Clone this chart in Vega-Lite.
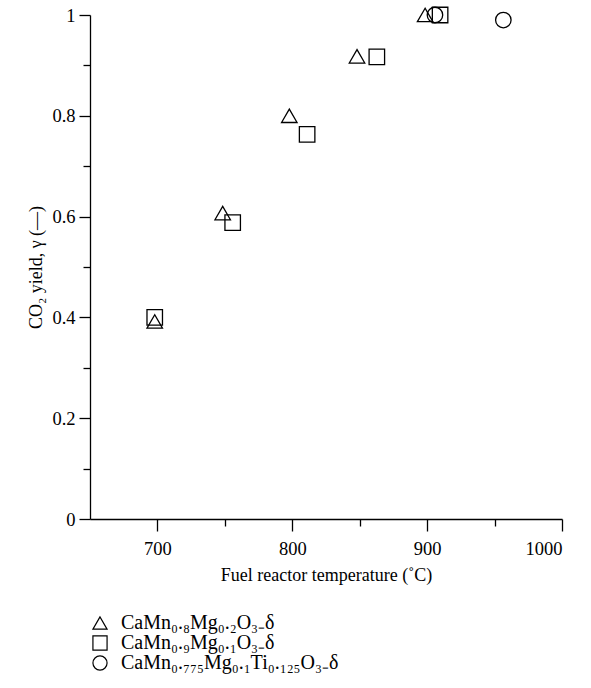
{
  "$schema": "https://vega.github.io/schema/vega-lite/v6.json",
  "width": 472,
  "height": 504,
  "autosize": {"type": "none"},
  "padding": {"left": 90, "top": 15, "right": 29, "bottom": 169},
  "background": "white",
  "config": {
    "view": {"stroke": null},
    "font": "Liberation Serif",
    "axis": {
      "grid": false,
      "domainColor": "#000",
      "tickColor": "#000",
      "labelColor": "#000",
      "titleColor": "#000",
      "labelFont": "Liberation Serif",
      "titleFont": "Liberation Serif",
      "labelFontSize": 18.5,
      "titleFontSize": 18,
      "titleFontWeight": "normal",
      "domainWidth": 1.3,
      "tickWidth": 1.3
    }
  },
  "data": {
    "values": [
      {"T": 698, "Y": 0.392, "M": "CaMn₀.₈Mg₀.₂O₃₋δ"},
      {"T": 748.4, "Y": 0.607, "M": "CaMn₀.₈Mg₀.₂O₃₋δ"},
      {"T": 797.8, "Y": 0.8, "M": "CaMn₀.₈Mg₀.₂O₃₋δ"},
      {"T": 848, "Y": 0.918, "M": "CaMn₀.₈Mg₀.₂O₃₋δ"},
      {"T": 898.5, "Y": 1.0, "M": "CaMn₀.₈Mg₀.₂O₃₋δ"},
      {"T": 698, "Y": 0.4, "M": "CaMn₀.₉Mg₀.₁O₃₋δ"},
      {"T": 755.8, "Y": 0.588, "M": "CaMn₀.₉Mg₀.₁O₃₋δ"},
      {"T": 811, "Y": 0.763, "M": "CaMn₀.₉Mg₀.₁O₃₋δ"},
      {"T": 862.7, "Y": 0.917, "M": "CaMn₀.₉Mg₀.₁O₃₋δ"},
      {"T": 909.6, "Y": 1.0, "M": "CaMn₀.₉Mg₀.₁O₃₋δ"},
      {"T": 905.8, "Y": 1.0, "M": "CaMn₀.₇₇₅Mg₀.₁Ti₀.₁₂₅O₃₋δ"},
      {"T": 956.5, "Y": 0.99, "M": "CaMn₀.₇₇₅Mg₀.₁Ti₀.₁₂₅O₃₋δ"}
    ]
  },
  "mark": {"type": "point", "filled": false, "stroke": "#000", "strokeWidth": 1.3, "size": 240, "opacity": 1},
  "encoding": {
    "x": {
      "field": "T",
      "type": "quantitative",
      "scale": {"domain": [650, 1000], "nice": false, "zero": false},
      "axis": {
        "values": [700, 750, 800, 850, 900, 950, 1000],
        "format": "d",
        "labelExpr": "datum.value % 100 === 0 ? datum.label : ''",
        "tickSize": {"condition": {"test": "datum.value % 100 === 0", "value": 12}, "value": 7},
        "labelPadding": 8,
        "titlePadding": 9,
        "title": "Fuel reactor temperature (˚C)"
      }
    },
    "y": {
      "field": "Y",
      "type": "quantitative",
      "scale": {"domain": [0, 1], "nice": false},
      "axis": {
        "values": [0, 0.1, 0.2, 0.3, 0.4, 0.5, 0.6, 0.7, 0.8, 0.9, 1],
        "labelExpr": "round(datum.value * 10) % 2 === 0 ? format(datum.value, '~g') : ''",
        "tickSize": {"condition": {"test": "round(datum.value * 10) % 2 === 0", "value": 11}, "value": 7},
        "labelPadding": 4,
        "titlePadding": 6,
        "title": "CO₂ yield, γ (—)"
      }
    },
    "shape": {
      "field": "M",
      "type": "nominal",
      "scale": {
        "domain": ["CaMn₀.₈Mg₀.₂O₃₋δ", "CaMn₀.₉Mg₀.₁O₃₋δ", "CaMn₀.₇₇₅Mg₀.₁Ti₀.₁₂₅O₃₋δ"],
        "range": ["triangle-up", "square", "circle"]
      },
      "legend": {
        "orient": "none",
        "legendX": 0,
        "legendY": 598,
        "title": null,
        "direction": "vertical",
        "labelFont": "Liberation Serif",
        "labelFontSize": 20,
        "labelColor": "#000",
        "labelLimit": 450,
        "symbolStrokeColor": "#000",
        "symbolFillColor": "transparent",
        "symbolStrokeWidth": 1.2,
        "symbolSize": 200,
        "rowPadding": 0,
        "labelOffset": 11
      }
    }
  }
}
